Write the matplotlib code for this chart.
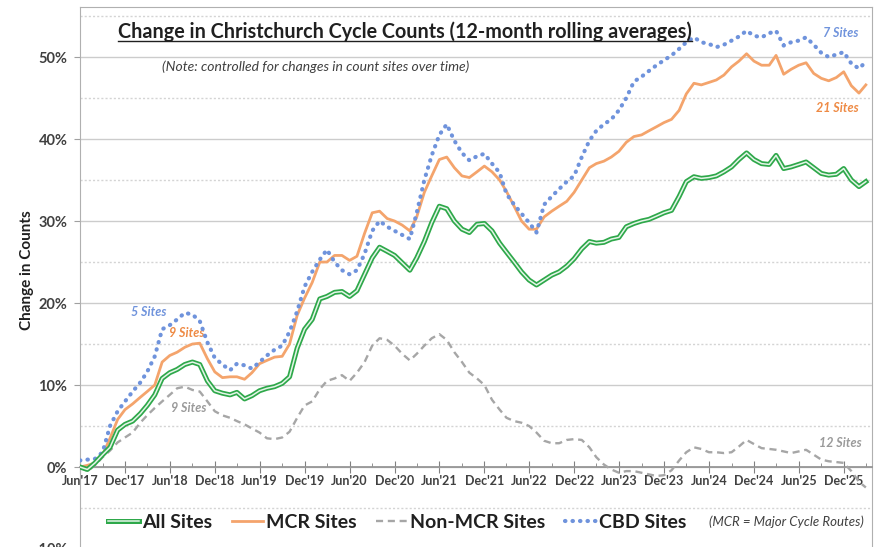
import numpy as np
import pandas as pd
import matplotlib
matplotlib.use("Agg")
import matplotlib.pyplot as plt
import matplotlib.dates as mdates
import matplotlib.patheffects as pe
from matplotlib.lines import Line2D
from matplotlib.ticker import MultipleLocator, FuncFormatter

plt.rcParams["font.family"] = ["Lato", "DejaVu Sans"]

# Monthly 12-month rolling change in counts (%), Jun 2017 - Mar 2026
months = pd.date_range("2017-06-01", "2026-03-01", freq="MS")

all_sites = [
    0.0, -0.3, 0.5, 1.5, 2.4, 4.5, 5.2, 5.6, 6.5, 7.5,
    8.8, 10.8, 11.5, 11.9, 12.5, 12.8, 12.5, 10.5, 9.3, 9.0,
    8.8, 9.1, 8.3, 8.7, 9.3, 9.6, 9.8, 10.2, 11.0, 14.5,
    16.8, 18.0, 20.5, 20.8, 21.3, 21.4, 20.8, 21.5, 23.5, 25.5,
    26.8, 26.3, 25.8, 24.9, 24.0, 25.5, 27.5, 29.8, 31.8, 31.5,
    30.0, 29.0, 28.6, 29.6, 29.7, 28.8, 27.3, 26.2, 25.0, 23.8,
    22.8, 22.2, 22.8, 23.4, 23.8, 24.5, 25.4, 26.6, 27.5, 27.3,
    27.4, 27.8, 28.0, 29.3, 29.7, 30.0, 30.2, 30.6, 31.0, 31.3,
    33.0, 34.8, 35.4, 35.2, 35.3, 35.5, 36.0, 36.6, 37.5, 38.3,
    37.5, 37.0, 36.9, 38.0, 36.4, 36.6, 36.9, 37.2, 36.5, 35.8,
    35.6, 35.7, 36.4, 35.0, 34.2, 34.8,
]

mcr_sites = [
    0.0, 0.2, 0.5, 1.5, 3.5, 5.8, 7.0, 7.7, 8.5, 9.2,
    10.0, 12.8, 13.6, 14.0, 14.6, 15.0, 15.1, 13.2, 11.6, 10.9,
    11.0, 11.0, 10.7, 11.5, 12.6, 13.0, 13.4, 13.5, 15.0, 18.5,
    20.6, 22.5, 25.0, 25.0, 25.8, 25.8, 25.2, 25.7, 28.5, 31.0,
    31.2, 30.3, 30.0, 29.5, 28.8, 30.5, 33.5, 35.5, 37.5, 37.8,
    36.5, 35.5, 35.3, 36.0, 36.7, 36.0, 35.0, 33.6, 31.8, 30.0,
    29.0, 29.0, 30.5, 31.2, 31.8, 32.4, 33.5, 35.0, 36.5, 37.0,
    37.3, 37.8, 38.5, 39.6, 40.3, 40.5, 41.0, 41.5, 42.0, 42.4,
    43.5, 45.5, 46.8, 46.6, 46.9, 47.2, 47.8, 48.8, 49.5, 50.4,
    49.5, 49.0, 49.0, 50.2, 47.9, 48.5, 49.0, 49.3, 48.0, 47.4,
    47.1, 47.5, 48.2, 46.5, 45.6, 46.6,
]

non_mcr_sites = [
    0.0, -0.5, 0.2, 1.2, 2.0, 3.0, 3.6, 4.2, 5.4, 6.3,
    7.2, 8.0, 8.8, 9.6, 9.8, 9.4, 9.2, 8.0, 6.8, 6.3,
    6.0, 5.6, 5.2, 4.7, 4.2, 3.5, 3.4, 3.6, 4.3, 6.0,
    7.5, 8.0, 9.5, 10.5, 10.8, 11.2, 10.5, 11.5, 12.8, 14.8,
    15.7, 15.5, 14.8, 13.8, 13.0, 13.8, 14.8, 15.7, 16.2, 15.5,
    14.0, 12.8, 11.5, 10.8, 10.0, 8.2, 7.0, 6.0, 5.6, 5.4,
    5.0, 4.2, 3.2, 2.9, 2.9, 3.3, 3.4, 3.3, 2.4, 1.2,
    0.3, -0.3, -0.7, -0.5, -0.5, -0.7, -0.9, -1.1, -1.0, -0.4,
    0.8, 1.8, 2.4, 2.2, 1.8, 1.8, 1.7, 1.8, 2.5, 3.3,
    2.8, 2.3, 2.2, 2.1, 1.9, 1.7, 1.9, 2.1, 1.5, 0.9,
    0.7, 0.6, 0.5, -0.5, -1.8, -2.5,
]

cbd_sites = [
    0.8, 0.9, 1.0, 1.8, 5.0, 6.8, 8.0, 9.2, 10.3, 11.6,
    13.5, 16.8, 17.3, 18.0, 18.8, 18.6, 17.8, 15.2, 13.3, 12.5,
    11.8, 12.6, 12.4, 12.0, 12.8, 13.6, 14.3, 14.8, 16.5, 19.0,
    22.0, 23.8, 25.3, 26.5, 25.0, 24.0, 23.5, 24.0, 26.0, 28.8,
    30.0, 29.3, 28.8, 28.3, 27.8, 31.0, 35.0, 38.0, 40.5, 41.8,
    39.8, 38.3, 37.4, 37.9, 38.2, 37.0, 35.9, 33.3, 32.0, 30.9,
    29.8, 28.6, 32.0, 33.0, 33.9, 34.8, 35.5, 37.8, 39.8, 41.0,
    41.8, 42.4, 43.5, 45.0, 47.0, 47.6, 48.3, 49.0, 49.6, 50.2,
    51.0, 51.8, 52.4, 51.8, 51.6, 51.2, 51.5, 52.0, 52.5, 53.2,
    52.6, 52.4, 52.9, 53.2, 51.4, 51.8, 52.0, 52.4, 51.5, 50.5,
    50.0, 50.3, 50.6, 49.2, 48.6, 49.4,
]

GREEN = "#2EA84A"
ORANGE = "#F4A46C"
GREY = "#A6A6A6"
BLUE = "#6F93DC"
TEXT = "#404040"

fig = plt.figure(figsize=(8.74, 5.47), dpi=100)
ax = fig.add_axes([80 / 874, -2 / 547, 792 / 874, 542 / 547])

# All sites: hollow double line
ax.plot(months, all_sites, color="#E4F5E8", lw=1.1, zorder=5, label="All Sites",
        path_effects=[pe.Stroke(linewidth=3.6, foreground=GREEN), pe.Normal()])
ax.plot(months, mcr_sites, color=ORANGE, lw=2.0, zorder=4, label="MCR Sites")
ax.plot(months, non_mcr_sites, color=GREY, lw=1.7, ls=(0, (3, 2)), zorder=3,
        label="Non-MCR Sites")
ax.plot(months, cbd_sites, color=BLUE, lw=3.0, ls=(0, (0.1, 1.7)),
        dash_capstyle="round", zorder=4, label="CBD Sites")

ax.set_xlim(pd.Timestamp("2017-06-01"), pd.Timestamp("2026-03-26"))
ax.set_ylim(-10, 56.1)

# y grid: solid every 10%, dotted halfway
ax.yaxis.set_major_locator(MultipleLocator(10))
ax.yaxis.set_minor_locator(MultipleLocator(5))
ax.yaxis.set_major_formatter(FuncFormatter(lambda v, _: f"{v:.0f}%"))
ax.grid(axis="y", which="major", color="#CCCCCC", lw=1.0)
ax.grid(axis="y", which="minor", color="#D4D4D4", lw=1.0, ls=(0, (1.5, 1.5)))
ax.set_axisbelow(True)
ax.tick_params(axis="y", which="major", length=4, color="#A0A0A0",
               labelsize=10.5, labelcolor=TEXT, pad=5)
ax.tick_params(axis="y", which="minor", length=0)
for lab in ax.get_yticklabels():
    lab.set_fontweight("bold")

# x axis sits on the 0% line
ax.spines["bottom"].set_position(("data", 0))
ax.xaxis.set_major_locator(mdates.MonthLocator(bymonth=[6, 12]))
ax.xaxis.set_minor_locator(mdates.MonthLocator(bymonth=[3, 9]))
ax.xaxis.set_major_formatter(mdates.DateFormatter("%b'%y"))
ax.tick_params(axis="x", which="major", direction="inout", length=8,
               color="#808080", labelsize=9, labelcolor=TEXT, pad=2)
ax.tick_params(axis="x", which="minor", direction="in", length=3, color="#808080")
for lab in ax.get_xticklabels():
    lab.set_fontweight("bold")

for side in ["left", "top", "right"]:
    ax.spines[side].set_color("#B0B0B0")
ax.spines["bottom"].set_color("#909090")
ax.spines["bottom"].set_linewidth(1.2)

ax.set_ylabel("Change in Counts", fontsize=11, fontweight="bold", color="#202020")
ax.yaxis.set_label_coords(-0.058, (549 - 270) / 542)

# site count labels
site_kw = dict(fontsize=9, fontstyle="italic", fontweight="bold",
               ha="center", va="center")
ax.text(pd.Timestamp("2018-03-07"), 18.9, "5 Sites", color=BLUE, **site_kw)
ax.text(pd.Timestamp("2018-08-07"), 16.3, "9 Sites", color="#EE8A44", **site_kw)
ax.text(pd.Timestamp("2018-08-16"), 7.2, "9 Sites", color="#9A9A9A", **site_kw)
ax.text(pd.Timestamp("2025-11-19"), 52.9, "7 Sites", color=BLUE, **site_kw)
ax.text(pd.Timestamp("2025-11-07"), 43.8, "21 Sites", color="#EE8A44", **site_kw)
ax.text(pd.Timestamp("2025-11-16"), 2.9, "12 Sites", color="#9A9A9A", **site_kw)

leg = ax.legend(loc="center", bbox_to_anchor=(397 / 874, 1 - 522 / 547),
                bbox_transform=fig.transFigure, ncol=4, frameon=False,
                prop={"weight": "bold", "size": 14}, handlelength=1.6,
                handletextpad=0.15, columnspacing=1.0)
for t in leg.get_texts():
    t.set_color("#202020")
fig.text(786 / 874, 1 - 522 / 547, "(MCR = Major Cycle Routes)", fontsize=9.5,
         fontstyle="italic", color=TEXT, ha="center", va="center")

title = fig.text(405 / 874, 1 - 32 / 547,
                 "Change in Christchurch Cycle Counts (12-month rolling averages)",
                 fontsize=14.2, fontweight="bold", color="#202020",
                 ha="center", va="center")
fig.text(316 / 874, 1 - 67 / 547,
         "(Note: controlled for changes in count sites over time)",
         fontsize=10, fontstyle="italic", color=TEXT, ha="center", va="center")

# underline the title
fig.canvas.draw()
bb = title.get_window_extent().transformed(fig.transFigure.inverted())
fig.add_artist(Line2D([bb.x0, bb.x1], [bb.y0 + 0.002, bb.y0 + 0.002],
                      transform=fig.transFigure, color="#202020", lw=1.0))

fig.savefig("out.png", dpi=100)
